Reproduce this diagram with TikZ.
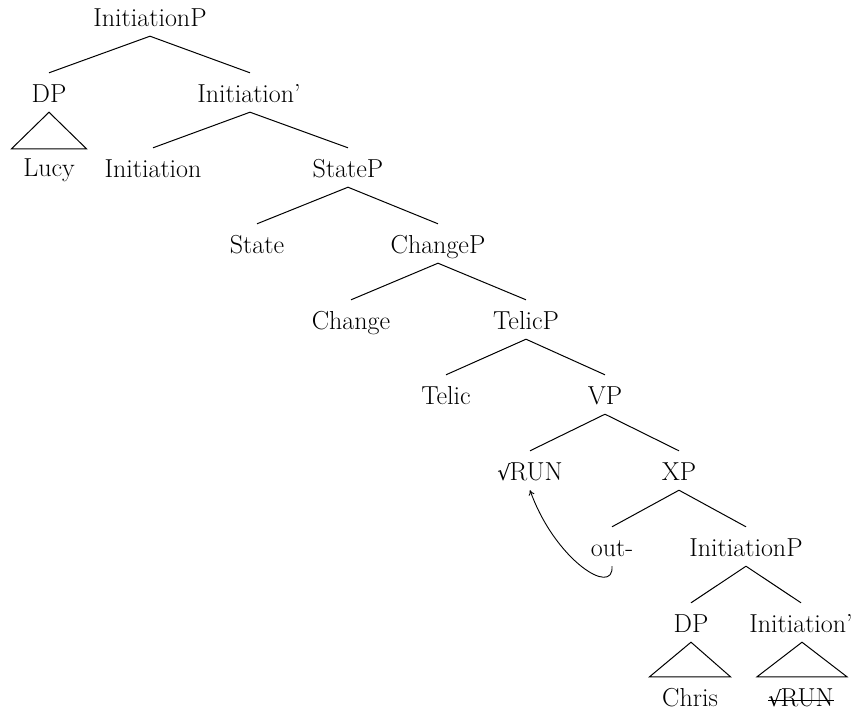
\documentclass[tikz,border=0pt]{standalone}
\usepackage{fontspec}
\newfontfamily\surdfont{DejaVu Serif}
\usetikzlibrary{arrows.meta}
\tikzset{
  lbl/.style={anchor=base, inner sep=0pt, text height=29pt, text depth=10pt, font=\fontsize{26}{30}\selectfont},
  edge/.style={line width=1pt},
  tri/.style={line width=1pt},
  mv/.style={line width=0.9pt, -{To[length=5pt,width=6pt]}}
}
\newcommand{\rootrun}{{\surdfont\fontsize{21}{26}\selectfont √}\kern-1pt RUN}
\begin{document}
\begin{tikzpicture}[x=1pt,y=-1pt]
\useasboundingbox (0,0) rectangle (856,710);
% nodes
\node[lbl] (ip1) at (150,26) {InitiationP};
\node[lbl] (dp1) at (49,102) {DP};
\node[lbl] (ib1) at (249,102) {Initiation'};
\node[lbl] (lucy) at (49,176) {Lucy};
\node[lbl] (init) at (153,177) {Initiation};
\node[lbl] (stp) at (348,177) {StateP};
\node[lbl] (st) at (257,253) {State};
\node[lbl] (chp) at (438,253) {ChangeP};
\node[lbl] (ch) at (351,329) {Change};
\node[lbl] (tp) at (526,329) {TelicP};
\node[lbl] (tel) at (446,404) {Telic};
\node[lbl] (vp) at (605,404) {VP};
\node[lbl] (run) at (530,480) {\rootrun};
\node[lbl] (xp) at (679,480) {XP};
\node[lbl] (out) at (612,556) {out-};
\node[lbl] (ip2) at (746,556) {InitiationP};
\node[lbl] (dp2) at (691,632) {DP};
\node[lbl] (ib2) at (801,632) {Initiation'};
\node[lbl] (chris) at (690,706) {Chris};
\node[lbl] (run2) at (801,706) {\rootrun};
% edges
\draw[edge] (ip1.south) -- (dp1.north);
\draw[edge] (ip1.south) -- ([xshift=1pt]ib1.north);
\draw[edge] ([xshift=1pt]ib1.south) -- (init.north);
\draw[edge] ([xshift=1pt]ib1.south) -- (stp.north);
\draw[edge] (stp.south) -- (st.north);
\draw[edge] (stp.south) -- (chp.north);
\draw[edge] (chp.south) -- (ch.north);
\draw[edge] (chp.south) -- (tp.north);
\draw[edge] (tp.south) -- (tel.north);
\draw[edge] (tp.south) -- (vp.north);
\draw[edge] (vp.south) -- (run.north);
\draw[edge] (vp.south) -- (xp.north);
\draw[edge] (xp.south) -- (out.north);
\draw[edge] (xp.south) -- (ip2.north);
\draw[edge] (ip2.south) -- (dp2.north);
\draw[edge] (ip2.south) -- (ib2.north);
% triangles
\draw[tri] (dp1.south) -- ([xshift=-37.5pt,yshift=-2pt]lucy.north) -- ([xshift=37.5pt,yshift=-2pt]lucy.north) -- cycle;
\draw[tri] (dp2.south) -- ([xshift=-40.5pt]chris.north) -- ([xshift=40.5pt]chris.north) -- cycle;
\draw[tri] ([xshift=1pt]ib2.south) -- ([xshift=-44pt]run2.north) -- ([xshift=46pt]run2.north) -- cycle;
% strike-through
\draw[line width=1pt] ([yshift=6pt]run2.base west) -- ([yshift=6pt]run2.base east);
% movement arrow
\draw[mv] (out.south) .. controls ([xshift=2pt,yshift=-31pt]out.south) and ([xshift=25pt,yshift=-70pt]run.south) .. (run.south);
\end{tikzpicture}
\end{document}
